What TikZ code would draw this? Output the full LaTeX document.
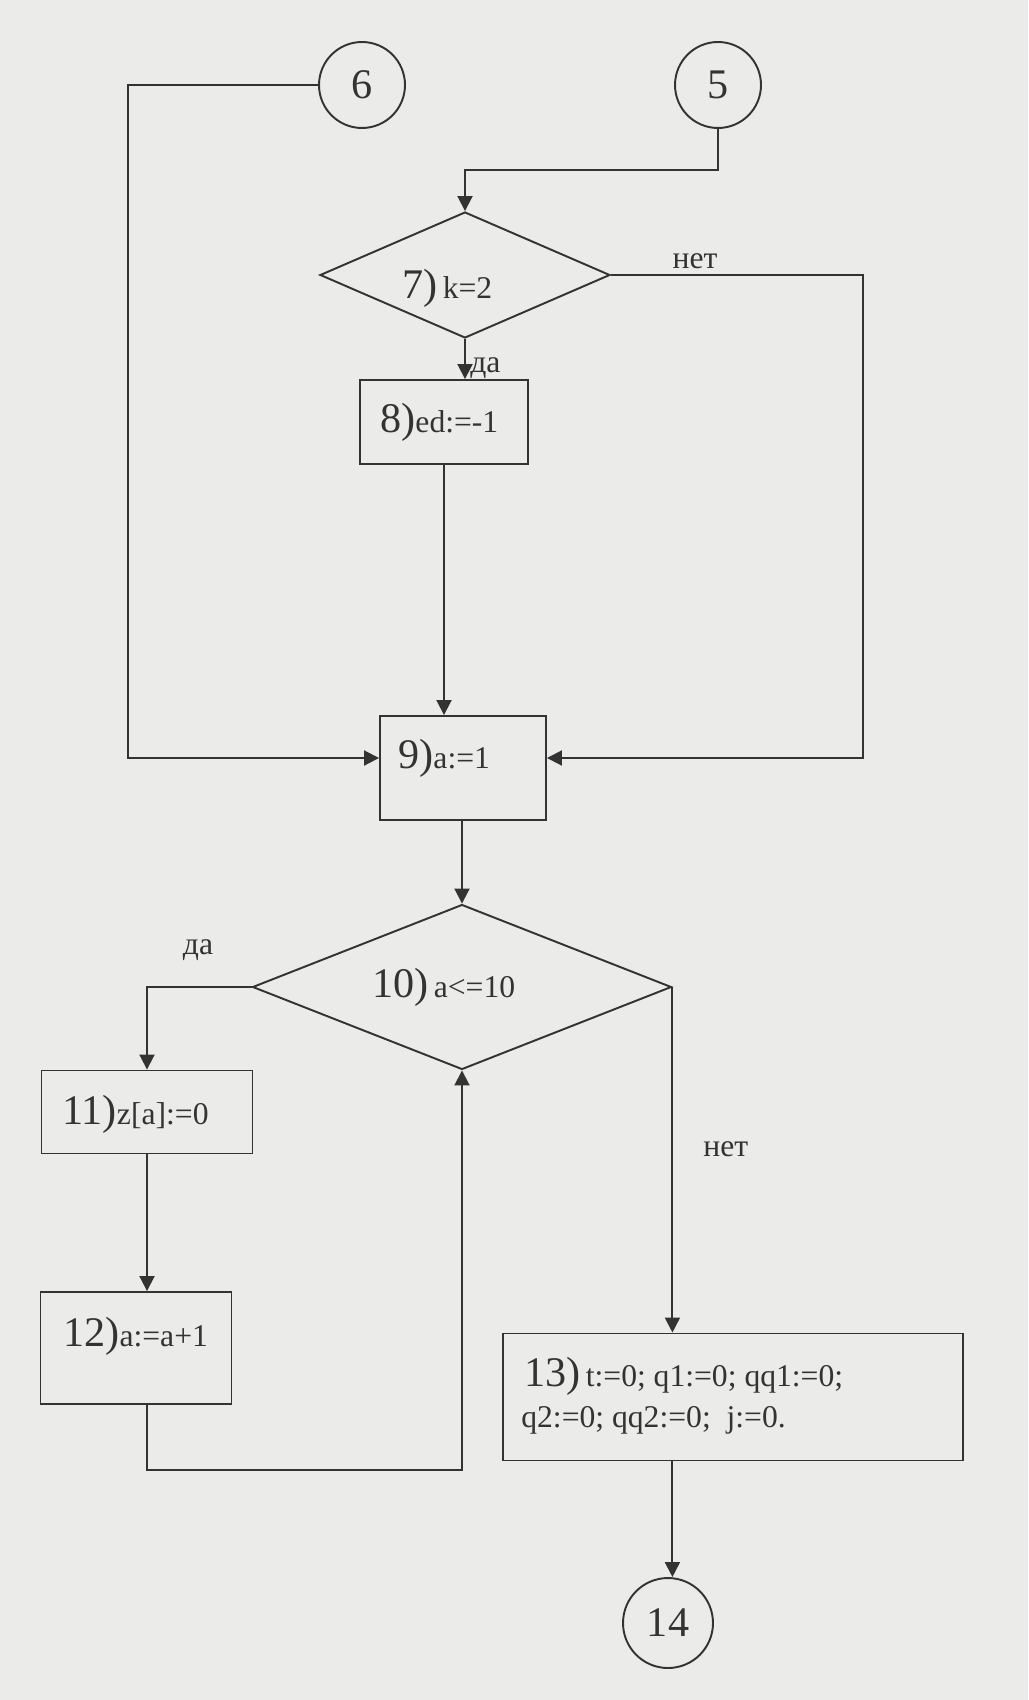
\documentclass[tikz,border=0pt]{standalone}
\usepackage{fontspec}
\setmainfont{Liberation Serif}
\usepackage{tikz}
\usetikzlibrary{arrows.meta,calc,shapes.geometric}
\definecolor{Paper}{HTML}{EBEBEA}
\definecolor{Ink}{HTML}{333333}
\newcommand{\bignum}[1]{{\fontsize{24}{27}\selectfont #1}}

\begin{document}
\begin{tikzpicture}[
  x=0.02cm, y=-0.02cm,
  every node/.style={font=\fontsize{18}{22}\selectfont,text=Ink},
  block/.style={rectangle,draw=Ink,line width=1.1pt,inner sep=0pt},
  test/.style={diamond,draw=Ink,line width=1.1pt,inner sep=0pt},
  link/.style={circle,draw=Ink,line width=1.1pt,inner sep=0pt,minimum size=1.72cm,font=\fontsize{24}{28}\selectfont},
  txt/.style={anchor=base west,inner sep=0pt},
  flow/.style={-{Triangle[length=3mm,width=3mm]},line width=1.1pt,draw=Ink}
]
\fill[Paper] (0,0) rectangle (1028,1700);

% connectors and blocks
\node[link] (c6) at (362,85) {6};
\node[link] (c5) at (718,85) {5};
\node[test,minimum width=5.8cm,minimum height=2.52cm] (d7) at (465,275) {};
\node[block,minimum width=3.36cm,minimum height=1.68cm] (b8) at (444,422) {};
\node[block,minimum width=3.32cm,minimum height=2.08cm] (b9) at (463,768) {};
\node[test,minimum width=8.38cm,minimum height=3.3cm] (d10) at (462,987) {};
\node[block,minimum width=4.22cm,minimum height=1.66cm] (b11) at (147,1112) {};
\node[block,minimum width=3.82cm,minimum height=2.24cm] (b12) at (136,1348) {};
\node[block,minimum width=9.2cm,minimum height=2.54cm] (b13) at (733,1397) {};
\node[link,minimum size=1.8cm] (c14) at (668,1623) {14};

% texts
\node[txt] (t7) at (402,298) {\bignum{7)}\,k=2};
\node[txt] (t8) at (380,432) {\bignum{8)}ed:=-1};
\node[txt] (t9) at (398,768) {\bignum{9)}a:=1};
\node[txt] (t10) at (372,997) {\bignum{10)}\,a<=10};
\node[txt] (t11) at (62,1124) {\bignum{11)}z[a]:=0};
\node[txt] (t12) at (63,1346) {\bignum{12)}a:=a+1};
\node[txt] (t13a) at (524,1386) {\bignum{13)}\,t:=0; q1:=0; qq1:=0;};
\node[txt] (t13b) at (521,1427) {q2:=0; qq2:=0;\ \ j:=0.};

% yes / no labels
\node[anchor=base] (no7) at (695,268) {нет};
\node[txt] (yes7) at (470,372) {да};
\node[anchor=base] (yes10) at (198,954) {да};
\node[txt] (no10) at (703,1156) {нет};

% lines
\coordinate (k6) at (128,758);
\coordinate (k7) at (863,758);
\coordinate (k12) at (462,1470);
\draw[flow] (c5.south) |- ($(d7.north)+(0,-41)$) -- (d7.north);
\draw[flow] (c6.west) -| (k6) -- (k6 -| b9.west);
\draw[flow] (d7.east) -| (k7) -- (k7 -| b9.east);
\draw[flow] (d7.south) -- (d7.south |- b8.north);
\draw[flow] (b8.south) -- (b8.south |- b9.north);
\draw[flow] (b9.south -| d10.north) -- (d10.north);
\draw[flow] (d10.west) -| (b11.north);
\draw[flow] (b11.south) -- (b11.south |- b12.north);
\draw[flow] (b11.south |- b12.south) |- (k12) -- (d10.south);
\draw[flow] (d10.east) -- (d10.east |- b13.north);
\draw[flow] (d10.east |- b13.south) -- (d10.east |- c14.north);
\end{tikzpicture}
\end{document}
